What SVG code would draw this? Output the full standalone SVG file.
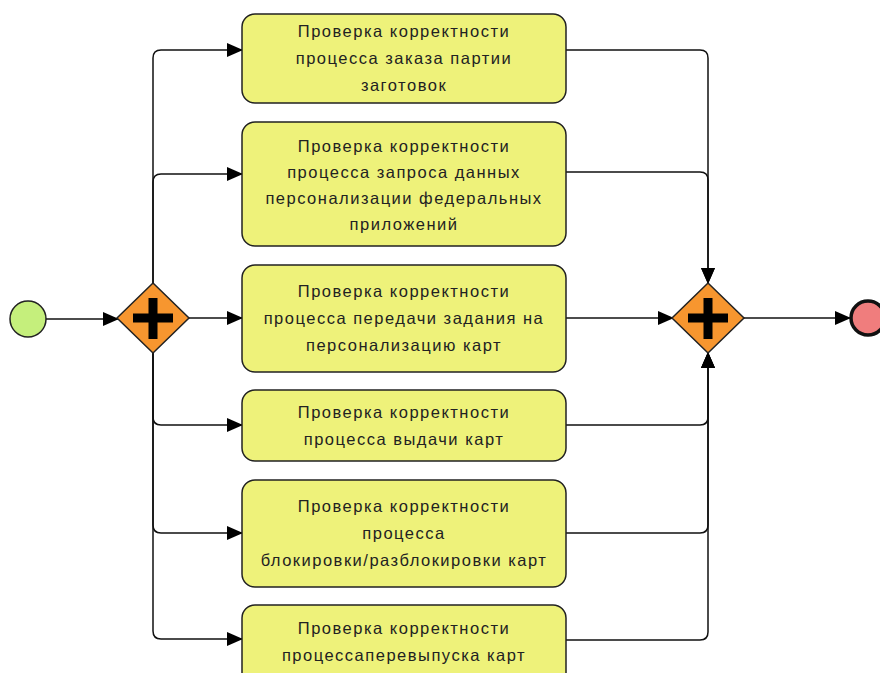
<svg xmlns="http://www.w3.org/2000/svg" width="880" height="673" viewBox="0 0 880 673">
<style>
.task{fill:#EEF27A;stroke:#222;stroke-width:1.5}
.gw{fill:#F7962F;stroke:#222;stroke-width:1.5}
.plus{stroke:#000;stroke-width:9;fill:none}
.conn{fill:none;stroke:#111;stroke-width:1.5}
.lbl{font-family:"Liberation Sans",Arial,sans-serif;font-size:16.5px;letter-spacing:1.5px;fill:#222;text-anchor:middle}
</style>
<defs>
<marker id="arr" markerUnits="userSpaceOnUse" markerWidth="16" markerHeight="14" refX="15" refY="7" orient="auto">
<path d="M0,0 L16,7 L0,14 Z" fill="#000"/>
</marker>
</defs>
<rect width="880" height="673" fill="#fff"/>
<g id="connectors">
<path class="conn" marker-end="url(#arr)" d="M46,319 H118"/>
<path class="conn" marker-end="url(#arr)" d="M153,283 V58 Q153,50 161,50 H242"/>
<path class="conn" marker-end="url(#arr)" d="M153,283 V182 Q153,174 161,174 H242"/>
<path class="conn" marker-end="url(#arr)" d="M189,318 H242"/>
<path class="conn" marker-end="url(#arr)" d="M153,353 V417 Q153,425 161,425 H242"/>
<path class="conn" marker-end="url(#arr)" d="M153,353 V525 Q153,533 161,533 H242"/>
<path class="conn" marker-end="url(#arr)" d="M153,353 V631 Q153,639 161,639 H242"/>
<path class="conn" marker-end="url(#arr)" d="M566,50 H700 Q708,50 708,58 V283"/>
<path class="conn" marker-end="url(#arr)" d="M566,172 H700 Q708,172 708,180 V283"/>
<path class="conn" marker-end="url(#arr)" d="M566,318 H673"/>
<path class="conn" marker-end="url(#arr)" d="M566,425 H700 Q708,425 708,417 V353"/>
<path class="conn" marker-end="url(#arr)" d="M566,533 H700 Q708,533 708,525 V353"/>
<path class="conn" marker-end="url(#arr)" d="M566,640 H700 Q708,640 708,632 V353"/>
<path class="conn" marker-end="url(#arr)" d="M744,318 H850"/>
</g>
<g id="start"><circle cx="28" cy="319" r="18" fill="#C5EF7C" stroke="#222" stroke-width="1.5"/></g>
<g id="split">
<polygon class="gw" points="153,283 189,318 153,353 117,318"/>
<path class="plus" d="M153,298 V339 M133,318 H173"/>
</g>
<g id="join">
<polygon class="gw" points="708,283 744,318 708,353 672,318"/>
<path class="plus" d="M708,298 V339 M688,318 H728"/>
</g>
<g id="end"><circle cx="868" cy="318" r="17" fill="#F07D7D" stroke="#111" stroke-width="3.5"/></g>
<g id="task1">
<rect class="task" x="242" y="14" width="324" height="89" rx="13"/>
<text class="lbl" x="404" y="37">Проверка корректности</text>
<text class="lbl" x="404" y="64">процесса заказа партии</text>
<text class="lbl" x="404" y="91">заготовок</text>
</g>
<g id="task2">
<rect class="task" x="242" y="122" width="324" height="124" rx="13"/>
<text class="lbl" x="404" y="152">Проверка корректности</text>
<text class="lbl" x="404" y="178">процесса запроса данных</text>
<text class="lbl" x="404" y="204">персонализации федеральных</text>
<text class="lbl" x="404" y="230">приложений</text>
</g>
<g id="task3">
<rect class="task" x="242" y="265" width="324" height="107" rx="13"/>
<text class="lbl" x="404" y="297">Проверка корректности</text>
<text class="lbl" x="404" y="324">процесса передачи задания на</text>
<text class="lbl" x="404" y="351">персонализацию карт</text>
</g>
<g id="task4">
<rect class="task" x="242" y="390" width="324" height="71" rx="13"/>
<text class="lbl" x="404" y="418">Проверка корректности</text>
<text class="lbl" x="404" y="445">процесса выдачи карт</text>
</g>
<g id="task5">
<rect class="task" x="242" y="480" width="324" height="107" rx="13"/>
<text class="lbl" x="404" y="512">Проверка корректности</text>
<text class="lbl" x="404" y="539">процесса</text>
<text class="lbl" x="404" y="566">блокировки/разблокировки карт</text>
</g>
<g id="task6">
<rect class="task" x="242" y="605" width="324" height="85" rx="13"/>
<text class="lbl" x="404" y="634">Проверка корректности</text>
<text class="lbl" x="404" y="661">процессаперевыпуска карт</text>
</g>
</svg>
